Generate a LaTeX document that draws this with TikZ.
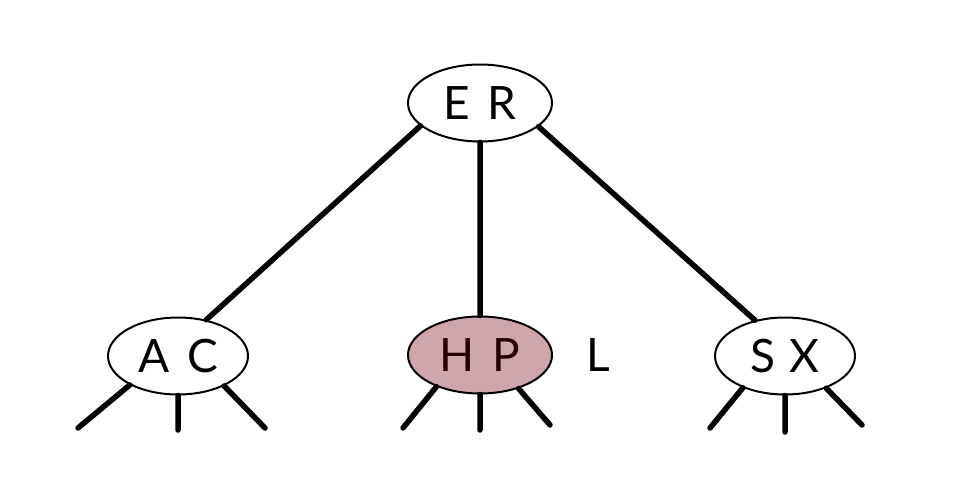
\documentclass[tikz,border=0pt]{standalone}
\usepackage{fontspec}
\setmainfont{Lato}
\usetikzlibrary{shapes.geometric}
\definecolor{hpfill}{RGB}{206,166,172}
\tikzset{
	key/.style={draw,ellipse,line width=2pt,minimum width=144pt,minimum height=77pt,inner sep=0pt},
	link/.style={line width=5.5pt}
}
\begin{document}
\begin{tikzpicture}[x=1pt,y=-1pt,line join = round,line cap = round,font=\fontsize{46}{55}\selectfont]
	\useasboundingbox (0,0) rectangle (956,484);
	\node[key] (ER) at (480,103) {E\hspace{18pt}R};
	\node[key,minimum width=140pt] (AC) at (178,356) {A\hspace{18pt}C};
	\node[key,fill=hpfill,text=black!85!red] (HP) at (480,355) {H\hspace{18pt}P};
	\node[key,minimum width=140pt] (SX) at (785,356) {S\hspace{14pt}X};
	\node (L) at (598,355) {L};
	\coordinate (AC1) at (78,428);
	\coordinate (AC2) at (178,430);
	\coordinate (AC3) at (265,428);
	\coordinate (HP1) at (403,428);
	\coordinate (HP2) at (480,430);
	\coordinate (HP3) at (550,425);
	\coordinate (SX1) at (710,428);
	\coordinate (SX2) at (785,432);
	\coordinate (SX3) at (862,425);
	\draw[link] (ER.201)--(AC.52) (ER.south)--(HP.north) (ER.338)--(SX.130);
	\draw[link] (AC.211)--(AC1) (AC.south)--(AC2) (AC.327)--(AC3);
	\draw[link] (HP.216)--(HP1) (HP.south)--(HP2) (HP.319)--(HP3);
	\draw[link] (SX.217)--(SX1) (SX.south)--(SX2) (SX.322)--(SX3);
\end{tikzpicture}
\end{document}
